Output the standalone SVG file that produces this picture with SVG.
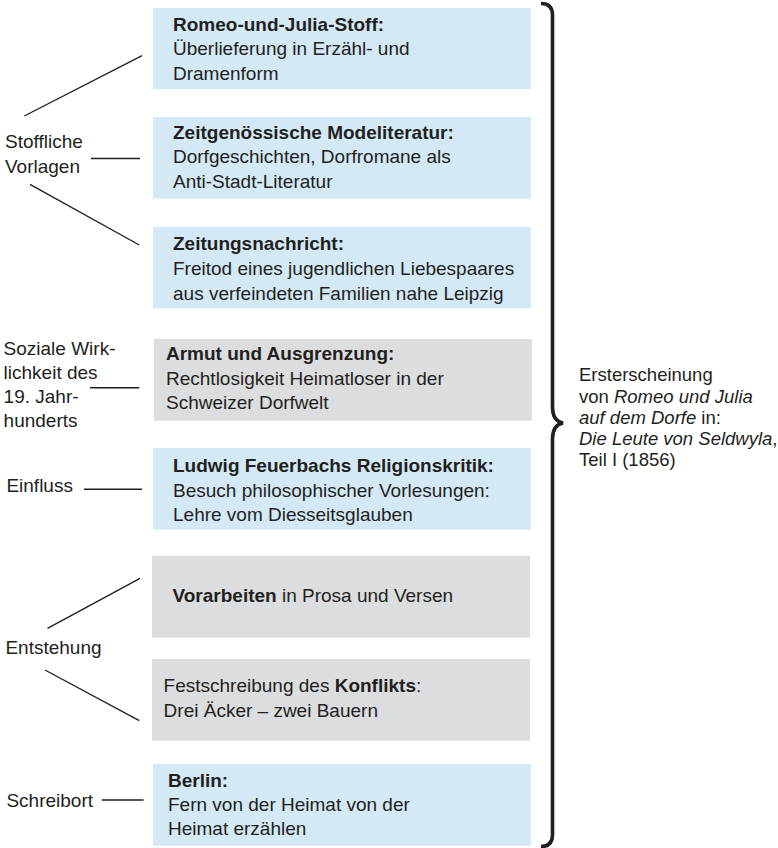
<svg xmlns="http://www.w3.org/2000/svg" width="778" height="848" viewBox="0 0 778 848">
<style>
text{font-family:"Liberation Sans",Arial,sans-serif;font-size:19px;fill:#231f20}
.b{font-weight:bold}
.i{font-style:italic}
.blue{fill:#d3e9f6}
.gray{fill:#dcddde}
.ln{stroke:#231f20;stroke-width:1.4;fill:none}
.r{font-size:18.5px}
</style>
<rect width="778" height="848" fill="#ffffff"/>
<g id="connectors">
<line class="ln" x1="24.3" y1="116" x2="142" y2="55.7"/>
<line class="ln" x1="91" y1="158.5" x2="140" y2="158.5"/>
<line class="ln" x1="30" y1="184.3" x2="139.3" y2="245"/>
<line class="ln" x1="90" y1="387.7" x2="139.3" y2="387.7"/>
<line class="ln" x1="84" y1="489.3" x2="142" y2="489.3"/>
<line class="ln" x1="47.5" y1="628.3" x2="140" y2="578.3"/>
<line class="ln" x1="45" y1="670" x2="139.3" y2="720.7"/>
<line class="ln" x1="101.8" y1="800" x2="143.6" y2="800"/>
</g>
<g id="label-stoffliche"><text x="5" y="147.7">Stoffliche</text><text x="5" y="172.7">Vorlagen</text></g>
<g id="label-sozial"><text x="3.6" y="355">Soziale Wirk-</text><text x="3.6" y="378.5">lichkeit des</text><text x="3.6" y="402.7">19. Jahr-</text><text x="3.6" y="426.7">hunderts</text></g>
<g id="label-einfluss"><text x="6.4" y="491.7">Einfluss</text></g>
<g id="label-entstehung"><text x="5.4" y="654">Entstehung</text></g>
<g id="label-schreibort"><text x="6.4" y="807.3">Schreibort</text></g>
<g id="box1"><rect class="blue" x="153" y="8" width="378" height="81.3"/>
<text x="173" y="30.7" class="b">Romeo-und-Julia-Stoff:</text>
<text x="173" y="55.2">Überlieferung in Erzähl- und</text>
<text x="173" y="79.5">Dramenform</text></g>
<g id="box2"><rect class="blue" x="153" y="117" width="378" height="81.7"/>
<text x="173" y="138.8" class="b">Zeitgenössische Modeliteratur:</text>
<text x="173" y="163.3">Dorfgeschichten, Dorfromane als</text>
<text x="173" y="187.7">Anti-Stadt-Literatur</text></g>
<g id="box3"><rect class="blue" x="153" y="227" width="378" height="81.3"/>
<text x="173" y="250" class="b">Zeitungsnachricht:</text>
<text x="173" y="275">Freitod eines jugendlichen Liebespaares</text>
<text x="173" y="299.5">aus verfeindeten Familien nahe Leipzig</text></g>
<g id="box4"><rect class="gray" x="154" y="339" width="377.8" height="81.7"/>
<text x="166" y="360" class="b">Armut und Ausgrenzung:</text>
<text x="166" y="384.5">Rechtlosigkeit Heimatloser in der</text>
<text x="166" y="408.7">Schweizer Dorfwelt</text></g>
<g id="box5"><rect class="blue" x="153" y="448" width="378" height="81.7"/>
<text x="173" y="471.7" class="b">Ludwig Feuerbachs Religionskritik:</text>
<text x="173" y="496.5">Besuch philosophischer Vorlesungen:</text>
<text x="173" y="520.7">Lehre vom Diesseitsglauben</text></g>
<g id="box6"><rect class="gray" x="152" y="555.7" width="378" height="82"/>
<text x="172.5" y="601.7"><tspan class="b">Vorarbeiten</tspan> in Prosa und Versen</text></g>
<g id="box7"><rect class="gray" x="152" y="659" width="378" height="81.7"/>
<text x="163.6" y="691.7">Festschreibung des <tspan class="b">Konflikts</tspan>:</text>
<text x="163.6" y="716.7">Drei Äcker – zwei Bauern</text></g>
<g id="box8"><rect class="blue" x="153" y="764" width="378" height="81.7"/>
<text x="168" y="786.7" class="b">Berlin:</text>
<text x="168" y="810.7">Fern von der Heimat von der</text>
<text x="168" y="835">Heimat erzählen</text></g>
<g id="brace"><path d="M541,3.5 Q552.5,3.5 552.5,15 L552.5,407 Q552.5,421 563,423 Q552.5,425 552.5,439 L552.5,835 Q552.5,846.5 541,846.5" fill="none" stroke="#231f20" stroke-width="3.6"/></g>
<g id="result">
<text class="r" x="579" y="381">Ersterscheinung</text>
<text class="r" x="579" y="402.5">von <tspan class="i">Romeo und Julia</tspan></text>
<text class="r" x="579" y="424"><tspan class="i">auf dem Dorfe</tspan> in:</text>
<text class="r" x="579" y="445"><tspan class="i">Die Leute von Seldwyla</tspan>,</text>
<text class="r" x="579" y="466">Teil I (1856)</text>
</g>
</svg>
